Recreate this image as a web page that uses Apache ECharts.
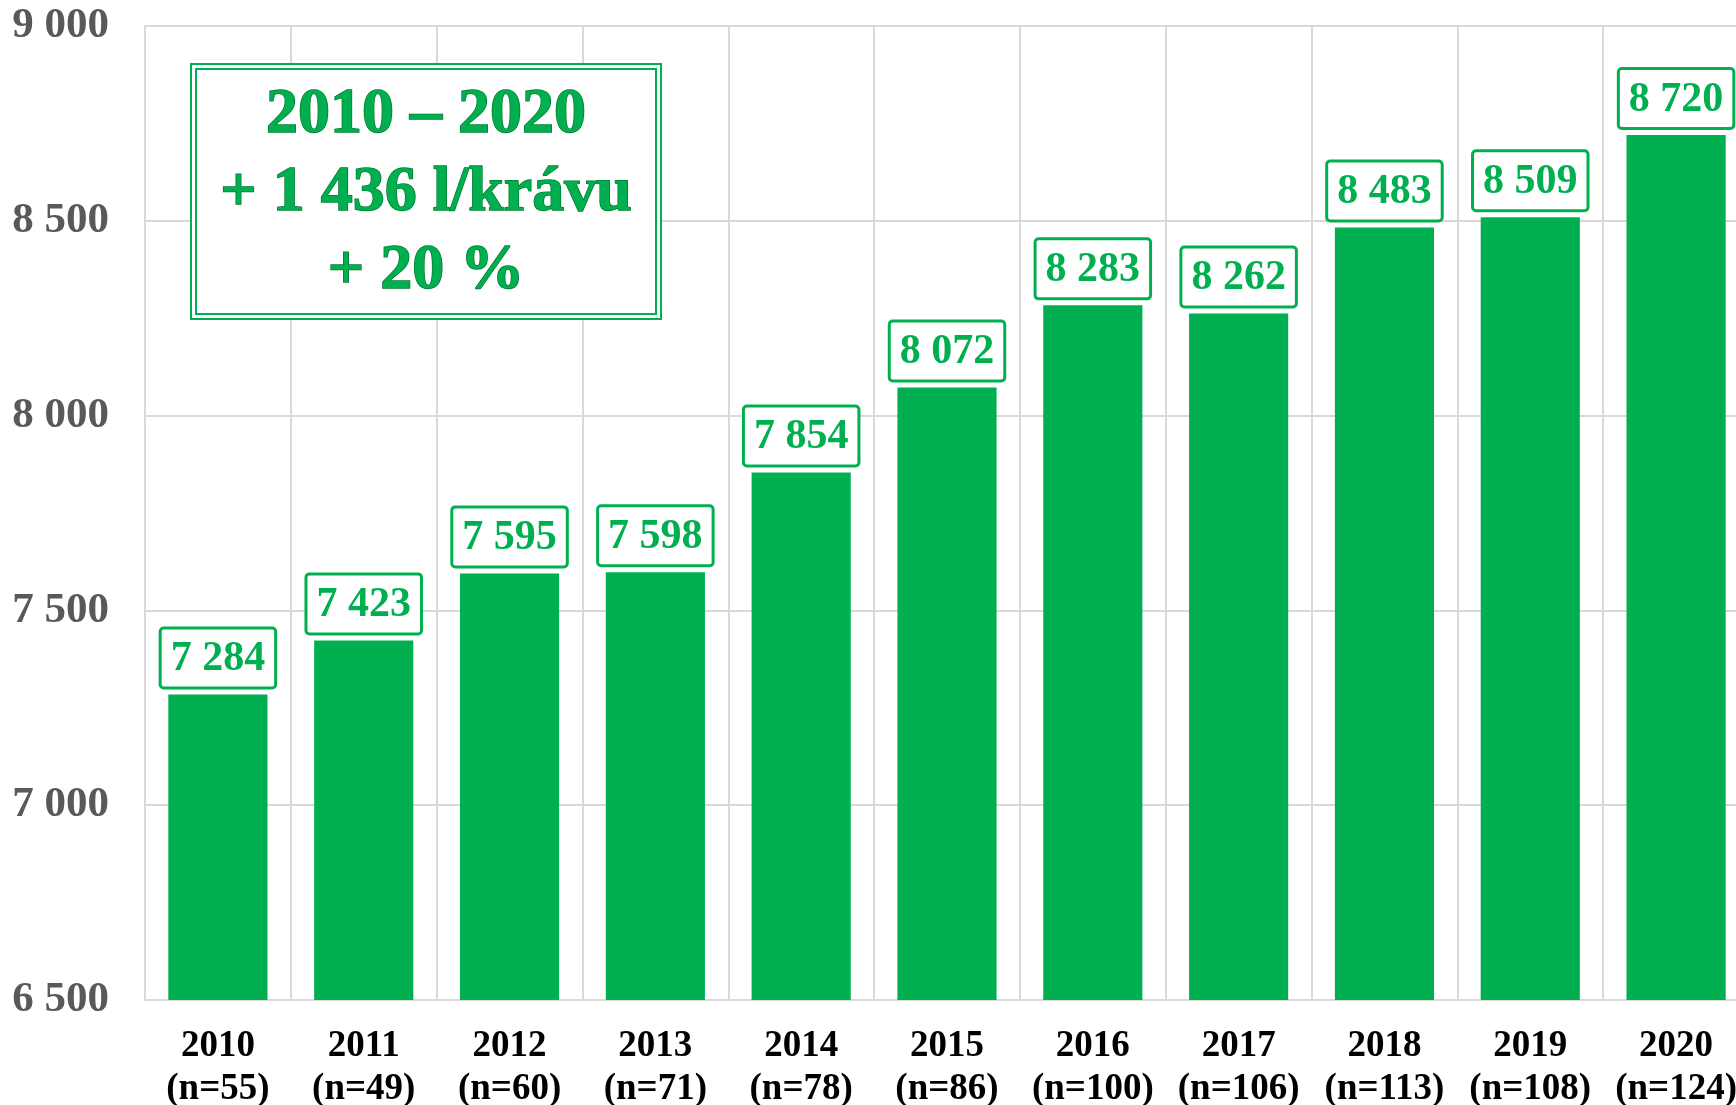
<!DOCTYPE html>
<html>
<head>
<meta charset="utf-8">
<script src="https://cdn.jsdelivr.net/npm/echarts@6/dist/echarts.min.js"></script>
<style>
  html, body { margin: 0; padding: 0; background: #fff; }
  #chart { width: 1736px; height: 1105px; }
</style>
</head>
<body>
<div id="chart"></div>
<script>
// data
var years = ["2010", "2011", "2012", "2013", "2014", "2015", "2016", "2017", "2018", "2019", "2020"];
var herds = [55, 49, 60, 71, 78, 86, 100, 106, 113, 108, 124];
var milk = [7284, 7423, 7595, 7598, 7854, 8072, 8283, 8262, 8483, 8509, 8720];
var boxLines = ["2010 – 2020", "+ 1 436 l/krávu", "+ 20 %"];

var green = "#00B050";
var font = "'Liberation Serif', 'Times New Roman', serif";

// 7284 -> "7 284"
function fmt(v) {
  return String(v).replace(/\B(?=(\d{3})+(?!\d))/g, " ");
}

var chart = echarts.init(document.getElementById("chart"));

var option = {
  animation: false,
  grid: { left: 145, right: -13, top: 26, bottom: 105, outerBoundsMode: "none" },
  xAxis: {
    type: "category",
    data: years.map(function (y, i) { return y + "\n(n=" + herds[i] + ")"; }),
    axisLine: { lineStyle: { color: "#d9d9d9", width: 2 } },
    axisTick: { show: false },
    splitLine: { show: true, lineStyle: { color: "#d9d9d9", width: 2 } },
    axisLabel: {
      color: "#000",
      fontFamily: font,
      fontWeight: "bold",
      fontSize: 37,
      lineHeight: 43,
      margin: 25,
      interval: 0,
    },
  },
  yAxis: {
    type: "value",
    min: 6500,
    max: 9000,
    interval: 500,
    axisLine: { show: true, lineStyle: { color: "#d9d9d9", width: 2 } },
    axisTick: { show: false },
    splitLine: { lineStyle: { color: "#d9d9d9", width: 2 } },
    axisLabel: {
      color: "#595959",
      fontFamily: font,
      fontWeight: "bold",
      fontSize: 43,
      margin: 36,
      formatter: function (v) { return fmt(v); },
    },
  },
  series: [
    {
      type: "bar",
      data: milk,
      barCategoryGap: "32%",
      itemStyle: { color: green },
      label: {
        show: true,
        position: "top",
        distance: 8,
        color: green,
        fontFamily: font,
        fontWeight: "bold",
        fontSize: 42,
        lineHeight: 46,
        backgroundColor: "#fff",
        borderColor: green,
        borderWidth: 3,
        borderRadius: 2,
        padding: [7, 9, 4, 9],
        formatter: function (p) { return fmt(p.value); },
      },
    },
  ],
  graphic: [
    {
      type: "rect",
      shape: { x: 191, y: 64, width: 470, height: 255 },
      style: { fill: "#fff", stroke: green, lineWidth: 2 },
      z: 10,
    },
    {
      type: "rect",
      shape: { x: 196, y: 69, width: 460, height: 245 },
      style: { fill: "none", stroke: green, lineWidth: 2 },
      z: 10,
    },
    {
      type: "text",
      x: 426,
      y: 76,
      z: 11,
      style: {
        text: boxLines.join("\n"),
        textAlign: "center",
        fill: green,
        stroke: "#007a2f",
        lineWidth: 1.5,
        font: "bold 64px " + font,
        lineHeight: 78,
      },
    },
  ],
};

chart.setOption(option);
</script>
</body>
</html>
